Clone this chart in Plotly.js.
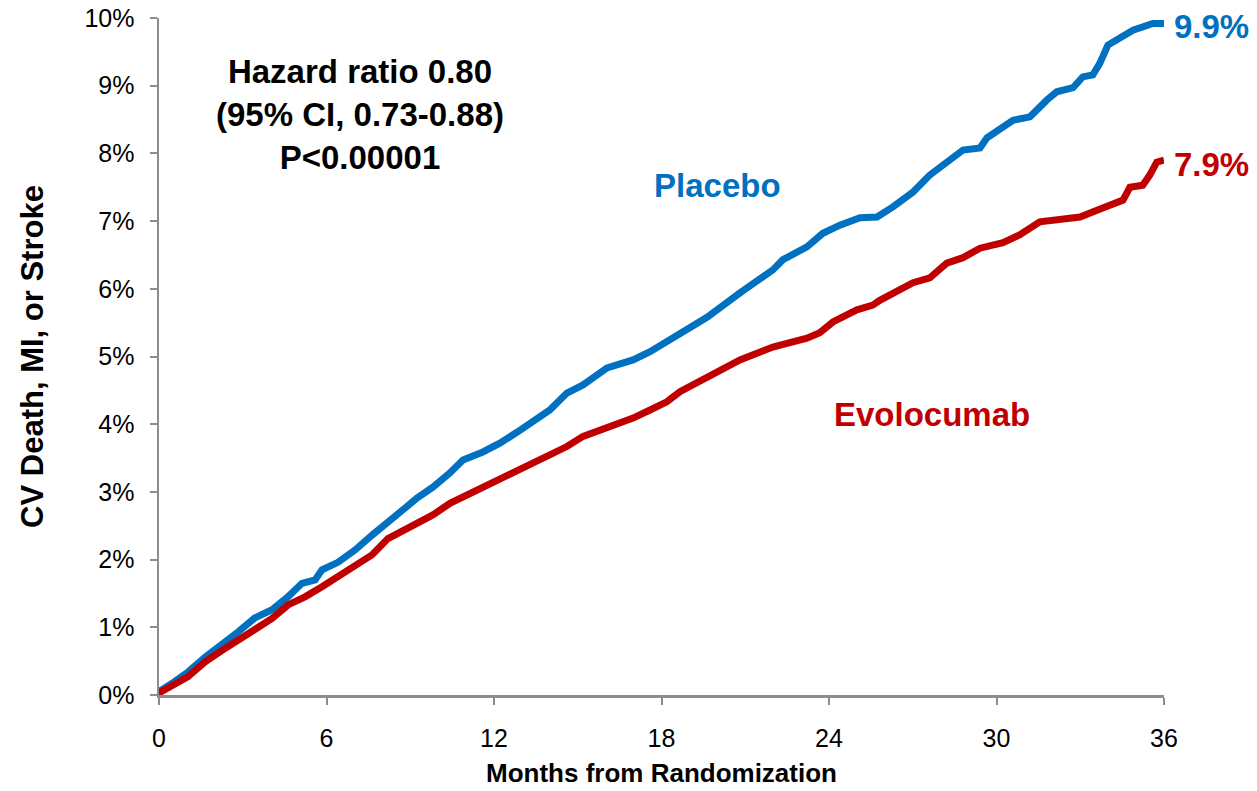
<!DOCTYPE html>
<html>
<head>
<meta charset="utf-8">
<script src="https://cdn.plot.ly/plotly-3.0.1.min.js"></script>
<style>html,body{margin:0;padding:0;background:#fff;}#chart{width:1257px;height:791px;}</style>
</head>
<body>
<div id="chart"></div>
<script>
// Months from randomization and cumulative event rate (%)
var placeboMonths = [0, 0.04, 0.57, 1.04, 1.65, 2.26, 2.83, 3.44, 4.05, 4.62, 5.12, 5.59, 5.84, 6.41, 7.02, 7.63, 8.20, 8.81, 9.24, 9.81, 10.42, 10.89, 11.60, 12.21, 12.82, 13.40, 14.00, 14.61, 15.19, 16.05, 16.98, 17.59, 18.41, 19.63, 20.81, 21.99, 22.35, 23.21, 23.78, 24.39, 25.11, 25.72, 26.29, 27.01, 27.61, 28.22, 28.80, 29.41, 29.66, 30.59, 31.20, 31.81, 32.16, 32.74, 33.09, 33.45, 33.70, 33.99, 34.42, 34.89, 35.60, 36.0];
var placeboRate = [0, 0.06, 0.20, 0.34, 0.56, 0.74, 0.93, 1.14, 1.26, 1.45, 1.65, 1.70, 1.85, 1.96, 2.14, 2.36, 2.54, 2.76, 2.91, 3.07, 3.28, 3.47, 3.59, 3.72, 3.88, 4.03, 4.21, 4.46, 4.58, 4.83, 4.95, 5.07, 5.27, 5.58, 5.94, 6.28, 6.43, 6.62, 6.82, 6.94, 7.05, 7.06, 7.21, 7.43, 7.68, 7.86, 8.05, 8.08, 8.23, 8.49, 8.54, 8.79, 8.91, 8.97, 9.13, 9.16, 9.33, 9.60, 9.72, 9.82, 9.92, 9.92];

var evoMonths = [0, 0.04, 1.04, 1.65, 2.26, 2.83, 3.44, 4.05, 4.62, 5.23, 5.84, 6.41, 7.02, 7.63, 8.20, 8.81, 9.24, 9.81, 10.42, 11.03, 11.60, 12.21, 12.82, 13.40, 14.00, 14.61, 15.19, 15.80, 16.40, 16.98, 17.59, 18.19, 18.66, 19.63, 20.81, 21.99, 23.21, 23.67, 24.14, 25.00, 25.57, 25.82, 27.01, 27.61, 28.22, 28.80, 29.41, 30.23, 30.84, 31.55, 32.38, 32.99, 33.60, 34.17, 34.53, 34.78, 35.24, 35.49, 35.74, 36.0];
var evoRate = [0, 0.04, 0.27, 0.49, 0.66, 0.81, 1.00, 1.13, 1.33, 1.45, 1.60, 1.75, 1.90, 2.07, 2.31, 2.44, 2.56, 2.66, 2.83, 2.95, 3.07, 3.20, 3.30, 3.44, 3.54, 3.67, 3.82, 3.91, 3.99, 4.09, 4.21, 4.33, 4.48, 4.70, 4.95, 5.14, 5.27, 5.35, 5.51, 5.69, 5.76, 5.83, 6.09, 6.16, 6.38, 6.46, 6.60, 6.68, 6.80, 6.99, 7.02, 7.06, 7.16, 7.24, 7.31, 7.50, 7.53, 7.68, 7.87, 7.90];

var xTicks = [0, 6, 12, 18, 24, 30, 36];
var yTicks = [0, 1, 2, 3, 4, 5, 6, 7, 8, 9, 10];

var seriesNames = ['Placebo', 'Evolocumab'];
var endLabels = ['9.9%', '7.9%'];
var statsText = ['Hazard ratio 0.80', '(95% CI, 0.73-0.88)', 'P<0.00001'];

var BLUE = '#0070C0', RED = '#C00000', AXIS = '#8C8C8C';
var FONT = 'Liberation Sans, Arial, sans-serif';

var traces = [
  {x: placeboMonths, y: placeboRate, mode: 'lines', name: seriesNames[0],
   line: {color: BLUE, width: 7}, hoverinfo: 'skip'},
  {x: evoMonths, y: evoRate, mode: 'lines', name: seriesNames[1],
   line: {color: RED, width: 7}, hoverinfo: 'skip'}
];

var layout = {
  width: 1257, height: 791,
  margin: {l: 159, r: 93, t: 18, b: 96},
  paper_bgcolor: '#fff', plot_bgcolor: '#fff',
  showlegend: false,
  font: {family: FONT, color: '#000'},
  xaxis: {
    range: [0, 36], tickvals: xTicks, ticktext: xTicks.map(String),
    showgrid: false, zeroline: false,
    showline: true, linecolor: AXIS, linewidth: 2.5,
    ticks: 'outside', ticklen: 7, tickwidth: 2, tickcolor: AXIS,
    ticklabelstandoff: 12,
    tickfont: {size: 25, family: FONT, color: '#000'},
    title: {text: '<b>Months from Randomization</b>', font: {size: 26, family: FONT, color: '#000'}, standoff: 14}
  },
  yaxis: {
    range: [0, 10], tickvals: yTicks, ticktext: yTicks.map(function(v){return v + '%';}),
    showgrid: false, zeroline: false,
    showline: true, linecolor: AXIS, linewidth: 2.5,
    ticks: 'outside', ticklen: 7, tickwidth: 2, tickcolor: AXIS,
    ticklabelstandoff: 10,
    tickfont: {size: 25, family: FONT, color: '#000'},
    title: {text: '<b>CV Death, MI, or Stroke</b>', font: {size: 31, family: FONT, color: '#000'}, standoff: 32}
  },
  annotations: [
    {xref: 'paper', yref: 'paper', x: 0.2, y: 0.858, xanchor: 'center', yanchor: 'middle',
     text: '<b>' + statsText.join('<br>') + '</b>', showarrow: false, align: 'center',
     font: {size: 33, family: FONT, color: '#000'}},
    {xref: 'paper', yref: 'paper', x: 0.556, y: 0.752, xanchor: 'center', yanchor: 'middle',
     text: '<b>' + seriesNames[0] + '</b>', showarrow: false, font: {size: 33, family: FONT, color: BLUE}},
    {xref: 'paper', yref: 'paper', x: 0.769, y: 0.414, xanchor: 'center', yanchor: 'middle',
     text: '<b>' + seriesNames[1] + '</b>', showarrow: false, font: {size: 33, family: FONT, color: RED}},
    {xref: 'paper', yref: 'paper', x: 1.008, y: 0.987, xanchor: 'left', yanchor: 'middle',
     text: '<b>' + endLabels[0] + '</b>', showarrow: false, font: {size: 33, family: FONT, color: BLUE}},
    {xref: 'paper', yref: 'paper', x: 1.008, y: 0.784, xanchor: 'left', yanchor: 'middle',
     text: '<b>' + endLabels[1] + '</b>', showarrow: false, font: {size: 33, family: FONT, color: RED}}
  ]
};

Plotly.newPlot('chart', traces, layout, {displayModeBar: false, staticPlot: true});
</script>
</body>
</html>
